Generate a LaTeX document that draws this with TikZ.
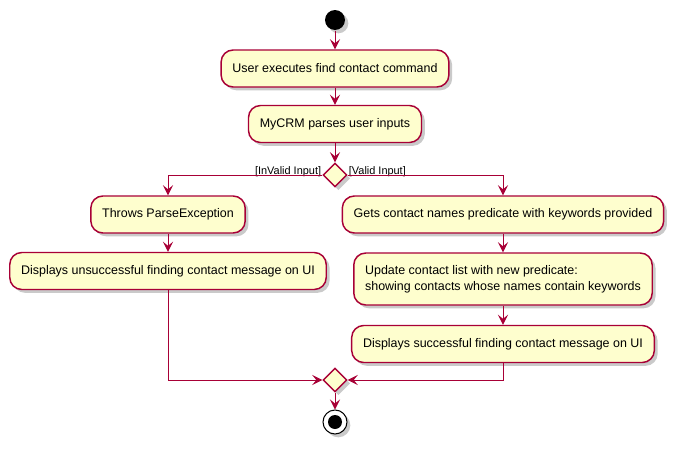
\documentclass[tikz,border=0pt]{standalone}
\usepackage{fontspec}
\setmainfont{Liberation Sans}
\usetikzlibrary{arrows.meta,shapes.geometric,shadows}

\definecolor{umlred}{RGB}{168,0,54}
\definecolor{umlfill}{RGB}{254,254,206}

\tikzset{every picture/.style={line width=0.75pt}}
\tikzset{
	act/.style={draw=umlred, fill=umlfill, rounded corners=9pt, line width=1.1pt, inner xsep=8.5pt, minimum height=27.75pt, font=\fontsize{9.35}{11.8}\selectfont, drop shadow={shadow xshift=2.5pt, shadow yshift=-2.5pt, fill=black!35, opacity=0.6}},
	decide/.style={diamond, aspect=1, draw=umlred, fill=umlfill, line width=1.1pt, minimum size=18pt, inner sep=0pt, drop shadow={shadow xshift=2.5pt, shadow yshift=-2.5pt, fill=black!35, opacity=0.6}},
	startnode/.style={circle, fill=black, minimum size=15pt, inner sep=0pt, drop shadow={shadow xshift=2.5pt, shadow yshift=-2.5pt, fill=black!35, opacity=0.6}},
	stopnode/.style={circle, draw=black, fill=white, line width=0.75pt, minimum size=18pt, inner sep=0pt, drop shadow={shadow xshift=2.5pt, shadow yshift=-2.5pt, fill=black!35, opacity=0.6}},
	guard/.style={inner sep=0.5pt, font=\fontsize{8.2}{10}\selectfont},
	flow/.style={draw=umlred, line width=0.75pt, -{Stealth[length=7.5pt, width=7.5pt, inset=3pt]}},
}

\begin{document}
\begin{tikzpicture}[x=0.75pt,y=0.75pt,yscale=-1,xscale=1]
	\useasboundingbox (0,0) rectangle (676,450);

	% start and first actions
	\node[startnode] (start) at (335,20) {};
	\node[act] (exec) at (335,68.5) {User executes find contact command};
	\node[act] (parse) at (335,124) {MyCRM parses user inputs};
	\node[decide] (dec) at (335,175) {};
	\node[guard, anchor=south east] (invalid) at ([yshift=2.5pt]dec.west) {[InValid Input]};
	\node[guard, anchor=south west] (valid) at ([yshift=2.5pt]dec.east) {[Valid Input]};

	% invalid branch
	\node[act] (throw) at (168,214.5) {Throws ParseException};
	\node[act] (unsucc) at (168,271) {Displays unsuccessful finding contact message on UI};

	% valid branch
	\node[act] (gets) at (503,214.5) {Gets contact names predicate with keywords provided};
	\node[act, align=left, minimum height=39pt] (update) at (503,279) {Update contact list with new predicate:\\showing contacts whose names contain keywords};
	\node[act] (succ) at (503,344) {Displays successful finding contact message on UI};

	% merge and stop
	\node[decide] (merge) at (335,380) {};
	\node[stopnode] (stop) at (335,422) {};
	\fill (stop.center) circle (5.25pt);

	% connectors
	\draw[flow] (start) -- (exec);
	\draw[flow] (exec) -- (parse);
	\draw[flow] (parse) -- (dec);
	\draw[flow] (dec.west) -| (throw.north);
	\draw[flow] (dec.east) -| (gets.north);
	\draw[flow] (throw) -- (unsucc);
	\draw[flow] (gets) -- (update);
	\draw[flow] (update) -- (succ);
	\draw[flow] (unsucc.south) |- (merge.west);
	\draw[flow] (succ.south) |- (merge.east);
	\draw[flow] (merge) -- (stop);

\end{tikzpicture}
\end{document}
